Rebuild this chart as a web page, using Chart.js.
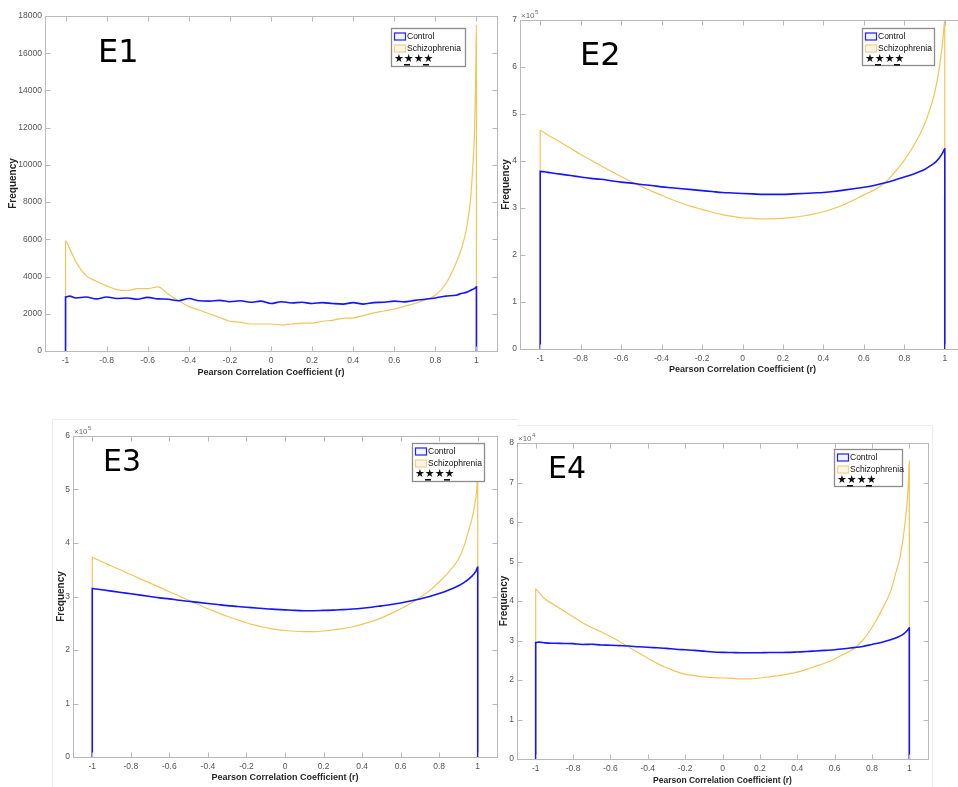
<!DOCTYPE html>
<html>
<head>
<meta charset="utf-8">
<title>Pearson correlation histograms</title>
<script src="https://cdn.jsdelivr.net/npm/chart.js@4.4.1/dist/chart.umd.min.js"></script>
<style>
  html, body { margin: 0; padding: 0; background: #fff; overflow: hidden; width: 958px; height: 787px; }
  canvas { position: absolute; }
  .frame { position: absolute; border: 0 solid #ececec; }
</style>
</head>
<body>
<div class="frame" style="left:52px;top:419px;width:465px;height:380px;border-left-width:1px;border-top-width:1px;"></div>
<div class="frame" style="left:517px;top:425px;width:415px;height:380px;border-top-width:1px;border-right-width:1px;"></div>
<canvas id="chart-e1" width="500" height="385" style="left:0;top:0;"></canvas>
<canvas id="chart-e2" width="480" height="385" style="left:497px;top:0;"></canvas>
<canvas id="chart-e3" width="460" height="367" style="left:40px;top:420px;"></canvas>
<canvas id="chart-e4" width="443" height="367" style="left:497px;top:420px;"></canvas>
<script>
// ------------------------------------------------------------
// data (bin centre r -> count)
// first and last entries are the drop to zero at r = -1 / r = 1
// ------------------------------------------------------------
const rBins = [
  -1, -1, -0.98, -0.95,
  -0.9, -0.85, -0.8, -0.75, -0.7, -0.65, -0.6, -0.55, -0.5, -0.45, -0.4, -0.35, -0.3, -0.25, -0.2, -0.15, -0.1, -0.05,
  0, 0.05, 0.1, 0.15, 0.2, 0.25, 0.3, 0.35, 0.4, 0.45, 0.5, 0.55, 0.6, 0.65, 0.7, 0.75, 0.8, 0.85,
  0.9, 0.93, 0.95, 0.97, 0.98, 0.99, 0.995, 1, 1,
];
const rTicks = [-1, -0.8, -0.6, -0.4, -0.2, 0, 0.2, 0.4, 0.6, 0.8, 1];

const e1Control = [
  0, 2900, 2950, 2850,
  2900, 2800, 2900, 2820, 2850, 2780, 2880, 2800, 2780, 2700, 2820, 2700, 2680, 2720, 2650, 2700, 2620, 2680,
  2550, 2650, 2580, 2620, 2550, 2600, 2550, 2520, 2600, 2520, 2600, 2620, 2680, 2640, 2720, 2780, 2850, 2950,
  3000, 3100, 3150, 3250, 3300, 3350, 3400, 3450, 0,
];
const e1Schizo = [
  0, 5900, 5500, 4800,
  4050, 3750, 3500, 3300, 3250, 3350, 3350, 3450, 3050, 2700, 2400, 2200, 2000, 1800, 1600, 1550, 1450, 1450,
  1450, 1400, 1450, 1500, 1500, 1600, 1650, 1750, 1780, 1900, 2050, 2150, 2250, 2400, 2550, 2750, 3000, 3600,
  4700, 5600, 6500, 8000, 9500, 11500, 14000, 17500, 0,
];
const e1YTicks = [0, 2000, 4000, 6000, 8000, 10000, 12000, 14000, 16000, 18000];

const e2Control = [
  0, 378000, 377000, 375000,
  372000, 369000, 366000, 363000, 361000, 358000, 355000, 353000, 350000, 348000, 345000, 343000, 341000, 339000, 337000, 335000, 333000, 332000,
  331000, 330000, 329000, 329000, 329000, 330000, 331000, 332000, 333000, 335000, 338000, 341000, 344000, 348000, 353000, 359000, 366000, 373000,
  382000, 390000, 396000, 405000, 411000, 418000, 422000, 426000, 0,
];
const e2Schizo = [
  0, 465000, 460000, 452000,
  440000, 427000, 414000, 402000, 390000, 378000, 367000, 356000, 346000, 336000, 327000, 318000, 310000, 303000, 297000, 291000, 286000, 282000,
  279000, 278000, 277000, 277000, 278000, 280000, 283000, 287000, 292000, 299000, 307000, 317000, 328000, 338000, 352000, 375000, 402000, 435000,
  478000, 515000, 545000, 590000, 620000, 655000, 680000, 700000, 0,
];
const e2YTicks = [0, 100000, 200000, 300000, 400000, 500000, 600000, 700000];

const e3Control = [
  0, 315000, 314000, 312500,
  310000, 307500, 305000, 302500, 300000, 297500, 295500, 293000, 291000, 289000, 287000, 285000, 283000, 281500, 280000, 278500, 277000, 276000,
  275000, 274000, 273500, 273500, 274000, 274500, 275500, 276500, 278000, 280000, 282500, 285000, 288000, 291500, 295500, 300000, 305500, 312000,
  320000, 326500, 331500, 338000, 342000, 347000, 351000, 355000, 0,
];
const e3Schizo = [
  0, 373000, 370000, 365000,
  357000, 349000, 341000, 333000, 325000, 317000, 309000, 301000, 293000, 285000, 277000, 270000, 263000, 257000, 251000, 246000, 242000, 238500,
  236500, 235000, 234500, 234500, 235500, 237500, 240000, 243500, 248000, 253500, 260000, 268000, 277000, 287000, 298000, 311000, 327000, 346000,
  370000, 395000, 420000, 445000, 462000, 485000, 500000, 530000, 0,
];
const e3YTicks = [0, 100000, 200000, 300000, 400000, 500000, 600000];

const e4Control = [
  0, 29500, 29600, 29400,
  29300, 29250, 29200, 29000, 29050, 28850, 28800, 28700, 28600, 28400, 28300, 28150, 28000, 27800, 27650, 27500, 27300, 27100,
  27000, 26950, 26900, 26900, 26900, 26950, 26950, 27000, 27100, 27200, 27350, 27500, 27650, 27900, 28200, 28500, 29000, 29500,
  30200, 30700, 31100, 31700, 32100, 32600, 32900, 33200, 0,
];
const e4Schizo = [
  0, 43000, 42000, 40500,
  39000, 37500, 36000, 34500, 33300, 32200, 31000, 29700, 28300, 26900, 25500, 24200, 23100, 22200, 21500, 21100, 20800, 20600,
  20500, 20400, 20300, 20300, 20500, 20800, 21100, 21500, 22000, 22700, 23500, 24300, 25300, 26600, 27800, 30000, 33300, 37500,
  42500, 47500, 51000, 57000, 61000, 66000, 70000, 75500, 0,
];
const e4YTicks = [0, 10000, 20000, 30000, 40000, 50000, 60000, 70000, 80000];

const seriesLabels = ['Control', 'Schizophrenia'];

// ------------------------------------------------------------
// matlab-ish frame: box, inward ticks, exponent, legend, panel name
// ------------------------------------------------------------
const matlabFrame = {
  id: 'matlabFrame',
  afterDatasetsDraw(chart, args, o) {
    const { ctx, chartArea: a, scales: { x, y } } = chart;
    ctx.save();

    ctx.strokeStyle = '#b9b9b9';
    ctx.lineWidth = 1;
    const L = Math.round(a.left) + 0.5, T = Math.round(a.top) + 0.5;
    const R = Math.round(a.right) + 0.5, B = Math.round(a.bottom) + 0.5;
    ctx.strokeRect(L, T, R - L, B - T);
    ctx.beginPath();
    x.ticks.forEach((t) => {
      const px = Math.round(x.getPixelForValue(t.value)) + 0.5;
      ctx.moveTo(px, B); ctx.lineTo(px, B - 5);
      ctx.moveTo(px, T); ctx.lineTo(px, T + 5);
    });
    y.ticks.forEach((t) => {
      const py = Math.round(y.getPixelForValue(t.value)) + 0.5;
      ctx.moveTo(L, py); ctx.lineTo(L + 5, py);
      ctx.moveTo(R, py); ctx.lineTo(R - 5, py);
    });
    ctx.stroke();

    // x10^n exponent above the y axis
    if (o.exp) {
      ctx.fillStyle = '#6b6b6b';
      ctx.textBaseline = 'alphabetic';
      ctx.font = '8px "Liberation Sans"';
      ctx.fillText('\u00d710', a.left + 1, a.top - 2);
      const w = ctx.measureText('\u00d710').width;
      ctx.font = '6px "Liberation Sans"';
      ctx.fillText(o.exp, a.left + 1.5 + w, a.top - 6);
    }

    // legend box
    const lg = o.legend;
    ctx.fillStyle = '#fff';
    ctx.fillRect(lg.x, lg.y, lg.w, lg.h);
    ctx.strokeStyle = '#8c8c8c';
    ctx.lineWidth = 1.3;
    ctx.strokeRect(lg.x + 0.5, lg.y + 0.5, lg.w, lg.h);
    chart.data.datasets.forEach((ds, i) => {
      const cy = lg.y + 8.5 + i * 12;
      ctx.fillStyle = ds.swatchFill;
      ctx.fillRect(lg.x + 3, cy - 4, 12, 8);
      ctx.strokeStyle = ds.swatchEdge;
      ctx.lineWidth = 1.2;
      ctx.strokeRect(lg.x + 3.5, cy - 3.5, 11, 7);
      ctx.fillStyle = '#111';
      ctx.font = '8.5px "Liberation Sans"';
      ctx.textBaseline = 'middle';
      ctx.fillText(ds.label, lg.x + 16, cy + 0.5);
    });
    ctx.fillStyle = '#111';
    ctx.font = '11px "DejaVu Sans"';
    ctx.textBaseline = 'middle';
    ctx.fillText('\u2605\u2605\u2605\u2605', lg.x + 3, lg.y + 31);
    ctx.fillRect(lg.x + 13, lg.y + 36, 6, 1.6);
    ctx.fillRect(lg.x + 32, lg.y + 36, 6, 1.6);

    // panel name
    ctx.fillStyle = '#000';
    ctx.font = o.nameSize + 'px "DejaVu Sans"';
    ctx.textBaseline = 'alphabetic';
    ctx.fillText(o.name, o.nameX, o.nameY);

    ctx.restore();
  },
};

function fmtR(v) {
  if (Math.abs(v) < 1e-9) return '0';
  return String(Math.round(v * 10) / 10);
}

function toPoints(xs, ys) {
  return xs.map((xv, i) => ({ x: xv, y: ys[i] }));
}

function makePanel(p) {
  const yMax = p.yTicks[p.yTicks.length - 1];
  return new Chart(document.getElementById(p.id), {
    type: 'line',
    data: {
      datasets: [
        {
          label: seriesLabels[0],
          data: toPoints(rBins, p.control),
          borderColor: '#1414ff',
          borderWidth: 1.6,
          pointRadius: 0,
          cubicInterpolationMode: 'monotone',
          swatchFill: '#f4f4ff',
          swatchEdge: '#1f1fff',
        },
        {
          label: seriesLabels[1],
          data: toPoints(rBins, p.schizo),
          borderColor: 'rgba(237,177,32,0.75)',
          borderWidth: 1.2,
          pointRadius: 0,
          cubicInterpolationMode: 'monotone',
          swatchFill: '#fdf6e6',
          swatchEdge: '#f3d38a',
        },
      ],
    },
    options: {
      responsive: false,
      animation: false,
      devicePixelRatio: 1,
      layout: { padding: { left: 0, top: p.padTop, right: p.padRight, bottom: 0 } },
      plugins: {
        legend: { display: false },
        tooltip: { enabled: false },
        matlabFrame: {
          exp: p.exp,
          legend: p.legend,
          name: p.name,
          nameX: p.nameX,
          nameY: p.nameY,
          nameSize: p.nameSize,
        },
      },
      scales: {
        x: {
          type: 'linear',
          min: -1.1,
          max: 1.1,
          afterBuildTicks: (s) => { s.ticks = rTicks.map((v) => ({ value: v })); },
          afterFit: (s) => { s.height = p.xHeight; },
          grid: { display: false, drawTicks: false },
          border: { display: false },
          ticks: {
            autoSkip: false,
            maxRotation: 0,
            padding: 5,
            color: '#555',
            font: { family: 'Liberation Sans', size: 8.5 },
            callback: (v) => fmtR(v),
          },
          title: {
            display: true,
            text: 'Pearson Correlation Coefficient (r)',
            color: '#262626',
            font: { family: 'Liberation Sans', size: p.xTitleSize, weight: 'bold', lineHeight: 1.2 },
            padding: { top: 0, bottom: p.xTitlePad },
          },
        },
        y: {
          type: 'linear',
          min: 0,
          max: yMax,
          afterBuildTicks: (s) => { s.ticks = p.yTicks.map((v) => ({ value: v })); },
          afterFit: (s) => { s.width = p.yWidth; },
          grid: { display: false, drawTicks: false },
          border: { display: false },
          ticks: {
            padding: 3,
            color: '#555',
            font: { family: 'Liberation Sans', size: 8.5 },
            callback: (v) => String(Math.round(v / p.div)),
          },
          title: {
            display: true,
            text: 'Frequency',
            color: '#262626',
            font: { family: 'Liberation Sans', size: 10, weight: 'bold', lineHeight: 1.2 },
            padding: { top: p.yTitlePad, bottom: 0 },
          },
        },
      },
    },
    plugins: [matlabFrame],
  });
}

makePanel({
  id: 'chart-e1', name: 'E1', control: e1Control, schizo: e1Schizo, yTicks: e1YTicks, div: 1, exp: '',
  yWidth: 45, xHeight: 34, padTop: 16, padRight: 3, xTitlePad: 6.6, yTitlePad: 7, xTitleSize: 9,
  legend: { x: 391, y: 28, w: 74, h: 38 }, nameX: 98, nameY: 62, nameSize: 32,
});
makePanel({
  id: 'chart-e2', name: 'E2', control: e2Control, schizo: e2Schizo, yTicks: e2YTicks, div: 1e5, exp: '5',
  yWidth: 23, xHeight: 36, padTop: 20, padRight: 12, xTitlePad: 9.6, yTitlePad: 3, xTitleSize: 9,
  legend: { x: 365, y: 28, w: 72, h: 37 }, nameX: 83, nameY: 65, nameSize: 32,
});
makePanel({
  id: 'chart-e3', name: 'E3', control: e3Control, schizo: e3Schizo, yTicks: e3YTicks, div: 1e5, exp: '5',
  yWidth: 33, xHeight: 30, padTop: 16, padRight: 3, xTitlePad: 3.6, yTitlePad: 15, xTitleSize: 9,
  legend: { x: 372, y: 23, w: 72, h: 38 }, nameX: 63, nameY: 51, nameSize: 30,
});
makePanel({
  id: 'chart-e4', name: 'E4', control: e4Control, schizo: e4Schizo, yTicks: e4YTicks, div: 1e4, exp: '4',
  yWidth: 20, xHeight: 28, padTop: 23, padRight: 12, xTitlePad: 1.6, yTitlePad: 1, xTitleSize: 8.5,
  legend: { x: 337, y: 29, w: 68, h: 37 }, nameX: 51, nameY: 58, nameSize: 30,
});
</script>
</body>
</html>
